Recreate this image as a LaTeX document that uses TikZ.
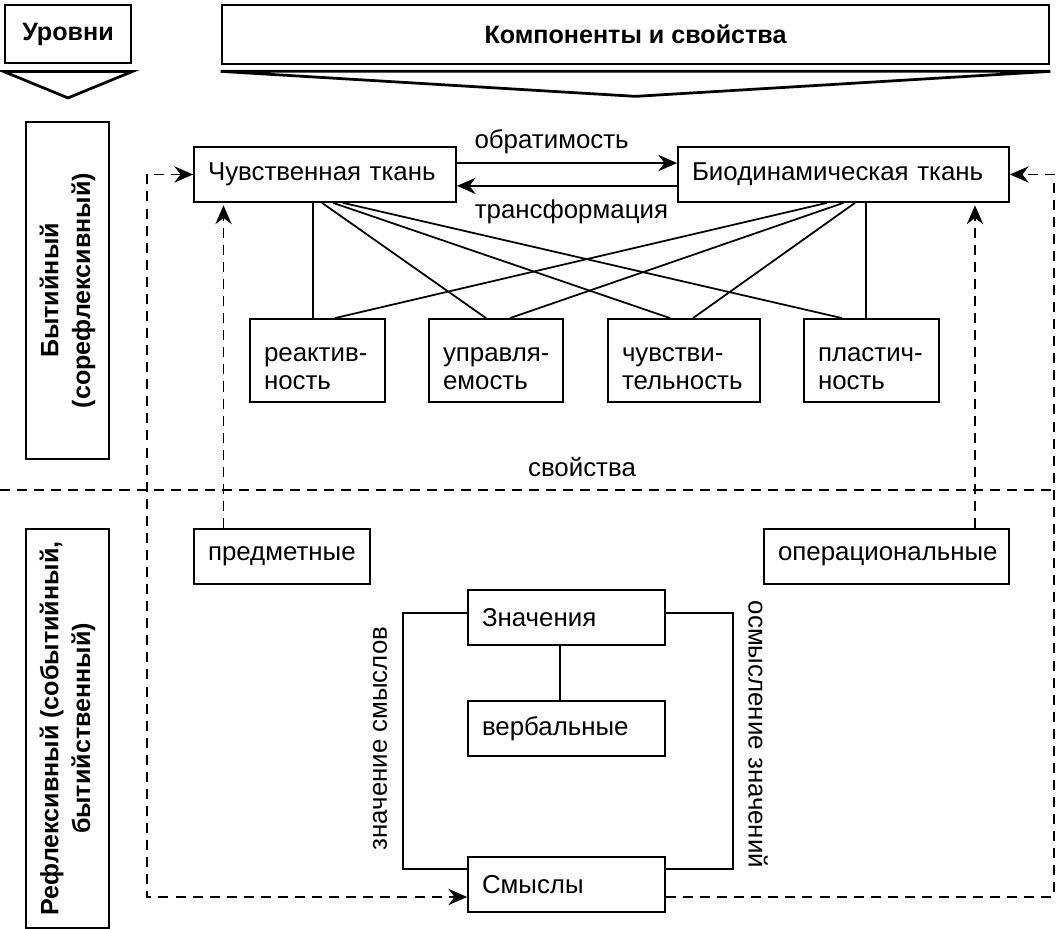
\documentclass[tikz,border=0pt]{standalone}
\usepackage{fontspec}
\setmainfont{Liberation Sans}
\usetikzlibrary{arrows.meta,positioning,calc}
\newcommand{\txtfont}{\fontsize{10.3}{11.2}\selectfont}
\newcommand{\hdrfont}{\fontsize{10}{12.7}\selectfont\bfseries}
\newcommand{\proptop}{\rule{0pt}{12pt}}

\begin{document}
\begin{tikzpicture}[>={Stealth[length=7.5pt,width=6.5pt,inset=2.5pt]},
  unit/.style={draw, line width=0.7pt, inner xsep=1.96mm, inner ysep=0pt,
               minimum height=7.7mm, align=left, font=\txtfont},
  prop/.style={unit, minimum height=11.62mm, font=\fontsize{10.3}{10.9}\selectfont},
  hdr/.style={draw, line width=1.1pt, inner sep=0pt, align=center, font=\hdrfont},
  lnk/.style={line width=0.7pt},
  dsh/.style={line width=0.7pt, dash pattern=on 4pt off 2.8pt}]
  \useasboundingbox (0,0) rectangle (14.798,13.006);
  % headers
  \node[hdr, minimum width=17.64mm, minimum height=8.12mm] (lvl) at (0.952,12.53) {Уровни};
  \node[hdr, minimum width=115.78mm, minimum height=8.26mm] (comp) at (8.897,12.523) {Компоненты и свойства};
  \draw[line width=1.1pt] ($(lvl.south west)+(0,-0.1)$) -- ($(lvl.south)+(0,-0.47)$) -- ($(lvl.south east)+(0,-0.1)$) -- cycle;
  \draw[line width=1.1pt] ($(comp.south west)+(0,-0.084)$) -- ($(comp.south)+(0,-0.434)$) -- ($(comp.south east)+(0,-0.084)$) -- cycle;
  \node[hdr, rotate=90, minimum width=47.18mm, minimum height=11.62mm] (lvlA) at (0.945,8.939) {Бытийный\\(сорефлексивный)};
  \node[hdr, rotate=90, minimum width=55.86mm, minimum height=11.62mm] (lvlB) at (0.945,2.807) {Рефлексивный (событийный,\\бытийственный)};
  % level border
  \draw[dsh] (0,6.146) -- (14.798,6.146);
  \node[font=\txtfont] (props) at (8.148,6.468) {свойства};
  % tissues
  \node[unit, text width=32.76mm] (chuv) at (4.55,10.563) {Чувственная ткань};
  \node[unit, text width=42.42mm] (bio) at (11.809,10.563) {Биодинамическая ткань};
  \draw[lnk,->] ([yshift=1.6mm]chuv.east) -- node[above, pos=0.43, font=\txtfont] (lblrev) {обратимость} ([yshift=1.6mm]bio.west);
  \draw[lnk,->] ([yshift=-1.6mm]bio.west) -- node[below, pos=0.48, yshift=-0.6mm, font=\txtfont] (lbltr) {трансформация} ([yshift=-1.6mm]chuv.east);
  % properties
  \node[prop, text width=14.98mm] (react) at (4.445,7.959) {\proptop\mbox{реактив-}\\ность};
  \node[prop, text width=14.84mm] (upr) at (6.944,7.959) {\proptop\mbox{управля-}\\емость};
  \node[prop, text width=17.36mm] (chuvst) at (9.576,7.959) {\proptop\mbox{чувстви-}\\тельность};
  \node[prop, text width=14.98mm] (plast) at (12.201,7.959) {\proptop\mbox{пластич-}\\ность};
  \draw[lnk] ([xshift=-1.68mm]chuv.south) -- ([xshift=-0.63mm]react.north);
  \draw[lnk] ([xshift=-0.42mm]chuv.south) -- ([xshift=-1.4mm]upr.north);
  \draw[lnk] ([xshift=1.12mm]chuv.south) -- ([xshift=-1.96mm]chuvst.north);
  \draw[lnk] ([xshift=2.52mm]chuv.south) -- ([xshift=-4.13mm]plast.north);
  \draw[lnk] ([xshift=-2.31mm]bio.south) -- ([xshift=2.45mm]react.north);
  \draw[lnk] (bio.south) -- ([xshift=1.96mm]upr.north);
  \draw[lnk] ([xshift=1.61mm]bio.south) -- ([xshift=1.26mm]chuvst.north);
  \draw[lnk] ([xshift=3.15mm]bio.south) -- ([xshift=-0.77mm]plast.north);
  % reflexive level
  \node[unit, text width=20.72mm] (predm) at (3.948,5.215) {предметные};
  \node[unit, text width=30.38mm] (oper) at (12.411,5.215) {операциональные};
  \coordinate (predmup) at ([xshift=-8.19mm]predm.north);
  \coordinate (operup) at ([xshift=12.39mm]oper.north);
  \draw[dsh,->,shorten >=1pt] (predmup) -- (predmup |- chuv.south);
  \draw[dsh,->,shorten >=1pt] (operup) -- (operup |- bio.south);
  \node[unit, text width=23.66mm] (znach) at (7.931,4.361) {Значения};
  \node[unit, text width=23.66mm] (verb) at (7.931,2.807) {вербальные};
  \node[unit, text width=23.66mm] (smysl) at (7.931,0.623) {Смыслы};
  \draw[lnk] ([xshift=-0.9mm]znach.south) -- ([xshift=-0.9mm]verb.north);
  \draw[lnk] ([yshift=0.63mm]znach.west) -- ++(-0.896,0) |- ([yshift=2.17mm]smysl.west);
  \draw[lnk] ([yshift=0.63mm]znach.east) -- ++(0.938,0) |- ([yshift=2.17mm]smysl.east);
  \node[font=\txtfont, rotate=90] (lblsm) at (5.32,2.667) {значение смыслов};
  \node[font=\txtfont, rotate=-90] (lblzn) at (10.612,2.723) {осмысление значений};
  % dashed loops
  \coordinate (lcol) at (2.058,0);
  \coordinate (rcol) at (14.756,0);
  \draw[dsh,<->] (chuv.west) -- (chuv.west -| lcol) |- ([yshift=-1.75mm]smysl.west);
  \draw[dsh,->] ([yshift=-1.75mm]smysl.east) -| (rcol |- bio.east) -- (bio.east);
\end{tikzpicture}
\end{document}
